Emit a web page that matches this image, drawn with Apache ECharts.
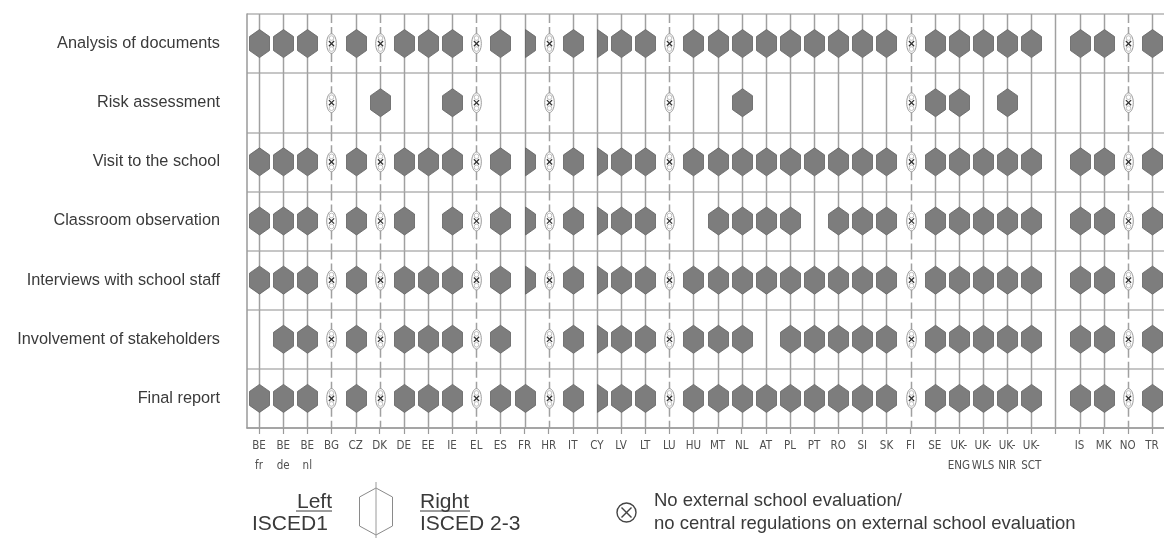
<!DOCTYPE html>
<html>
<head>
<meta charset="utf-8">
<script src="https://cdn.jsdelivr.net/npm/echarts@6/dist/echarts.min.js"></script>
<style>
html,body{margin:0;padding:0;background:#fff;}
#chart{width:1164px;height:540px;}
</style>
</head>
<body>
<div id="chart"></div>
<script>
// Country columns ('' = spacer column between EU and non-EU countries)
const countries = ['BE\nfr','BE\nde','BE\nnl','BG','CZ','DK','DE','EE','IE','EL','ES','FR','HR','IT','CY','LV','LT','LU','HU','MT','NL','AT','PL','PT','RO','SI','SK','FI','SE','UK-\nENG','UK-\nWLS','UK-\nNIR','UK-\nSCT','','IS','MK','NO','TR'];
const procedures = ['Analysis of documents','Risk assessment','Visit to the school','Classroom observation','Interviews with school staff','Involvement of stakeholders','Final report'];

// Codes: F = ISCED1 and ISCED 2-3, L = ISCED1 only, R = ISCED 2-3 only, X = no external evaluation, - = not applied
const analysisOfDocuments   = ['F','F','F','X','F','X','F','F','F','X','F','R','X','F','R','F','F','X','F','F','F','F','F','F','F','F','F','X','F','F','F','F','F','-','F','F','X','F'];
const riskAssessment        = ['-','-','-','X','-','F','-','-','F','X','-','-','X','-','-','-','-','X','-','-','F','-','-','-','-','-','-','X','F','F','-','F','-','-','-','-','X','-'];
const visitToSchool         = ['F','F','F','X','F','X','F','F','F','X','F','R','X','F','R','F','F','X','F','F','F','F','F','F','F','F','F','X','F','F','F','F','F','-','F','F','X','F'];
const classroomObservation  = ['F','F','F','X','F','X','F','-','F','X','F','R','X','F','R','F','F','X','-','F','F','F','F','-','F','F','F','X','F','F','F','F','F','-','F','F','X','F'];
const interviewsStaff       = ['F','F','F','X','F','X','F','F','F','X','F','R','X','F','R','F','F','X','F','F','F','F','F','F','F','F','F','X','F','F','F','F','F','-','F','F','X','F'];
const involvementStakeholders = ['-','F','F','X','F','X','F','F','F','X','F','-','X','F','R','F','F','X','F','F','F','-','F','F','F','F','F','X','F','F','F','F','F','-','F','F','X','F'];
const finalReport           = ['F','F','F','X','F','X','F','F','F','X','F','F','X','F','R','F','F','X','F','F','F','F','F','F','F','F','F','X','F','F','F','F','F','-','F','F','X','F'];

const rows = [analysisOfDocuments, riskAssessment, visitToSchool, classroomObservation, interviewsStaff, involvementStakeholders, finalReport];
const codeNum = {'-':0,'F':1,'L':2,'R':3,'X':4};

const data = [];
rows.forEach((arr, r) => arr.forEach((c, i) => data.push([i, r, codeNum[c]])));

const LINE = '#a0a0a0';
const HEX_FILL = '#7d7d7d';
const HEX_STROKE = '#616161';

function renderItem(params, api) {
  const col = api.value(0), row = api.value(1), code = api.value(2);
  const p = api.coord([col, row]);
  const sz = api.size([1, 1]);
  const cx = Math.round(p[0]) + 0.5, cy = p[1], h = sz[1];
  const children = [];
  children.push({
    type: 'line',
    shape: {x1: cx, y1: cy - h / 2, x2: cx, y2: cy + h / 2},
    style: {stroke: LINE, lineWidth: 1.5, lineDash: code === 4 ? [9, 4] : null}
  });
  const hw = 10, vt = 14, sh = 7;
  if (code === 1) {
    children.push({type: 'polygon', shape: {points: [[cx, cy - vt], [cx + hw, cy - sh], [cx + hw, cy + sh], [cx, cy + vt], [cx - hw, cy + sh], [cx - hw, cy - sh]]},
      style: {fill: HEX_FILL, stroke: HEX_STROKE, lineWidth: 0.8}});
  } else if (code === 2) {
    children.push({type: 'polygon', shape: {points: [[cx, cy - vt], [cx, cy + vt], [cx - hw, cy + sh], [cx - hw, cy - sh]]},
      style: {fill: HEX_FILL, stroke: HEX_STROKE, lineWidth: 0.8}});
  } else if (code === 3) {
    children.push({type: 'polygon', shape: {points: [[cx, cy - vt], [cx + hw, cy - sh], [cx + hw, cy + sh], [cx, cy + vt]]},
      style: {fill: HEX_FILL, stroke: HEX_STROKE, lineWidth: 0.8}});
  } else if (code === 4) {
    children.push({type: 'ellipse', shape: {cx: cx, cy: cy, rx: 4.8, ry: 9.8}, style: {fill: '#fff', stroke: '#9a9a9a', lineWidth: 1}});
    children.push({type: 'circle', shape: {cx: cx, cy: cy - 5.5, r: 2.3}, style: {fill: 'none', stroke: '#b0b0b0', lineWidth: 0.8}});
    children.push({type: 'circle', shape: {cx: cx, cy: cy + 5.5, r: 2.3}, style: {fill: 'none', stroke: '#b0b0b0', lineWidth: 0.8}});
    children.push({type: 'line', shape: {x1: cx - 2.6, y1: cy - 2.6, x2: cx + 2.6, y2: cy + 2.6}, style: {stroke: '#333', lineWidth: 1.3}});
    children.push({type: 'line', shape: {x1: cx - 2.6, y1: cy + 2.6, x2: cx + 2.6, y2: cy - 2.6}, style: {stroke: '#333', lineWidth: 1.3}});
  }
  return {type: 'group', children: children};
}

const TXT = '#3a3a3a';
const chart = echarts.init(document.getElementById('chart'), null, {renderer: 'canvas'});
chart.setOption({
  backgroundColor: '#fff',
  animation: false,
  grid: {left: 247, top: 14, width: 927, height: 414, containLabel: false},
  xAxis: {
    type: 'category', data: countries, boundaryGap: true,
    axisLine: {show: true, lineStyle: {color: '#9a9a9a', width: 1.5}},
    axisTick: {show: true, alignWithLabel: true, length: 6, lineStyle: {color: '#9a9a9a', width: 1.2}},
    axisLabel: {interval: 0, margin: 8, color: '#505050', fontSize: 11.5, lineHeight: 20,
      fontFamily: "'DejaVu Sans Condensed','DejaVu Sans',sans-serif"},
    splitLine: {show: false}
  },
  yAxis: {
    type: 'category', data: procedures, inverse: true, boundaryGap: true,
    axisLine: {show: true, lineStyle: {color: '#9a9a9a', width: 1.5}},
    axisTick: {show: false},
    axisLabel: {margin: 27, color: TXT, fontSize: 16.3, fontFamily: "'Liberation Sans', Arial, sans-serif"},
    splitLine: {show: true, lineStyle: {color: '#b3b3b3', width: 1.5}}
  },
  series: [{type: 'custom', renderItem: renderItem, data: data, clip: false,
    encode: {x: 0, y: 1}}],
  graphic: [
    {type: 'text', x: 332, y: 502, style: {text: 'Left', align: 'right', verticalAlign: 'middle', fill: TXT, font: "21px 'Liberation Sans', Arial, sans-serif"}},
    {type: 'line', shape: {x1: 296, y1: 511, x2: 332, y2: 511}, style: {stroke: TXT, lineWidth: 1}},
    {type: 'text', x: 252, y: 524.5, style: {text: 'ISCED1', align: 'left', verticalAlign: 'middle', fill: TXT, font: "21px 'Liberation Sans', Arial, sans-serif"}},
    {type: 'polygon', shape: {points: [[376, 488], [392.5, 497], [392.5, 526], [376, 535], [359.5, 526], [359.5, 497]]}, style: {fill: 'none', stroke: '#8a8a8a', lineWidth: 1}},
    {type: 'line', shape: {x1: 376, y1: 482, x2: 376, y2: 538}, style: {stroke: '#9a9a9a', lineWidth: 1}},
    {type: 'text', x: 420, y: 502, style: {text: 'Right', align: 'left', verticalAlign: 'middle', fill: TXT, font: "21px 'Liberation Sans', Arial, sans-serif"}},
    {type: 'line', shape: {x1: 420, y1: 511, x2: 470, y2: 511}, style: {stroke: TXT, lineWidth: 1}},
    {type: 'text', x: 420, y: 524.5, style: {text: 'ISCED 2-3', align: 'left', verticalAlign: 'middle', fill: TXT, font: "21px 'Liberation Sans', Arial, sans-serif"}},
    {type: 'circle', shape: {cx: 626.5, cy: 512.5, r: 9.5}, style: {fill: 'none', stroke: '#444', lineWidth: 1.4}},
    {type: 'line', shape: {x1: 621.5, y1: 507.5, x2: 631.5, y2: 517.5}, style: {stroke: '#444', lineWidth: 1.4}},
    {type: 'line', shape: {x1: 621.5, y1: 517.5, x2: 631.5, y2: 507.5}, style: {stroke: '#444', lineWidth: 1.4}},
    {type: 'text', x: 654, y: 500.5, style: {text: 'No external school evaluation/', align: 'left', verticalAlign: 'middle', fill: TXT, font: "18.5px 'Liberation Sans', Arial, sans-serif"}},
    {type: 'text', x: 654, y: 524, style: {text: 'no central regulations on external school evaluation', align: 'left', verticalAlign: 'middle', fill: TXT, font: "18.5px 'Liberation Sans', Arial, sans-serif"}}
  ]
});
</script>
</body>
</html>
